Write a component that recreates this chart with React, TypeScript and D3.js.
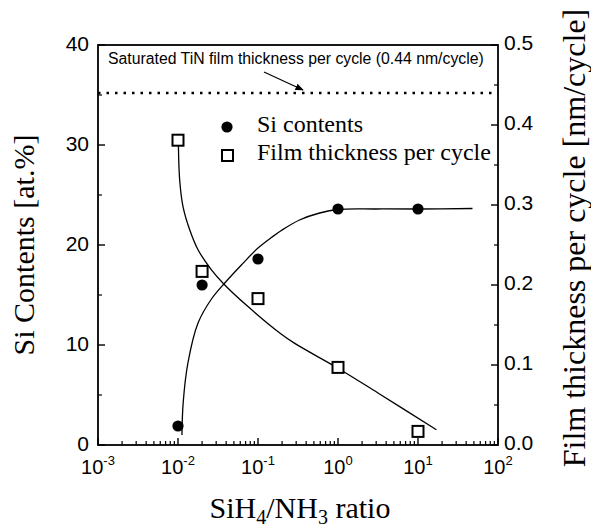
import React from 'react'
import * as d3 from 'd3'

const W = 591
const H = 527

// measured points
const ratios = [0.01, 0.02, 0.1, 1, 10]
const siContents = [1.9, 16.0, 18.6, 23.6, 23.6]
const filmThickness = [0.381, 0.217, 0.183, 0.097, 0.017]

// fitted curves
const siFitRatio = [0.0112, 0.0116, 0.0133, 0.0178, 0.0262, 0.0384, 0.062, 0.1, 0.15, 0.2, 0.33, 0.59, 1.0, 3, 10, 48]
const siFitValue = [1.0, 4.2, 8.2, 12.2, 14.6, 16.2, 18.0, 19.7, 20.8, 21.5, 22.5, 23.2, 23.55, 23.6, 23.6, 23.65]
const thkFitRatio = [0.0101, 0.0105, 0.01155, 0.014, 0.0178, 0.0262, 0.0376, 0.075, 0.187, 0.288, 1.0, 3.16, 17]
const thkFitValue = [0.38, 0.331, 0.298, 0.269, 0.244, 0.219, 0.201, 0.173, 0.14, 0.127, 0.096, 0.065, 0.019]

const saturatedThickness = 0.44

const xTickExp = [-3, -2, -1, 0, 1, 2]
const leftTicks = [0, 10, 20, 30, 40]
const rightTicks = [0, 0.1, 0.2, 0.3, 0.4, 0.5]

const margin = { left: 98, right: 498, top: 45, bottom: 445 }

const sans = 'Arial, "Liberation Sans", sans-serif'
const serif = '"Times New Roman", "Liberation Serif", serif'

export default function App() {
  const x = d3.scaleLog().domain([1e-3, 1e2]).range([margin.left, margin.right])
  const yL = d3.scaleLinear().domain([0, 40]).range([margin.bottom, margin.top])
  const yR = d3.scaleLinear().domain([0, 0.5]).range([margin.bottom, margin.top])

  const siLine = d3.line<number>()
    .x((_, i) => x(siFitRatio[i]))
    .y(d => yL(d))
    .curve(d3.curveCatmullRom.alpha(0.5))
  const thkLine = d3.line<number>()
    .x((_, i) => x(thkFitRatio[i]))
    .y(d => yR(d))
    .curve(d3.curveCatmullRom.alpha(0.5))

  const minorX: number[] = []
  for (let e = -3; e < 2; e++) for (let m = 2; m <= 9; m++) minorX.push(m * Math.pow(10, e))
  const minorL = d3.range(5, 40, 10)
  const minorR = d3.range(0.05, 0.5, 0.1)

  const yDot = yR(saturatedThickness)
  const midY = (margin.top + margin.bottom) / 2

  return (
    <svg width={W} height={H} style={{ position: 'absolute', left: 0, top: 0, background: '#fff' }}>
      <defs>
        <marker id="ah" viewBox="0 0 10 10" refX="9" refY="5" markerWidth="7" markerHeight="7" orient="auto">
          <path d="M0,1 L10,5 L0,9 z" fill="#000" />
        </marker>
      </defs>

      {/* frame */}
      <rect x={margin.left} y={margin.top} width={margin.right - margin.left} height={margin.bottom - margin.top}
        fill="none" stroke="#000" strokeWidth={1.8} />

      {/* bottom ticks */}
      {xTickExp.map(e => (
        <line key={'xm' + e} x1={x(Math.pow(10, e))} x2={x(Math.pow(10, e))} y1={margin.bottom} y2={margin.bottom - 7} stroke="#000" strokeWidth={1.4} />
      ))}
      {minorX.map(v => (
        <line key={'xn' + v} x1={x(v)} x2={x(v)} y1={margin.bottom} y2={margin.bottom - 4} stroke="#000" strokeWidth={1.2} />
      ))}
      {xTickExp.map(e => (
        <text key={'xl' + e} x={x(Math.pow(10, e))} y={474} fontFamily={sans} fontSize={20} textAnchor="middle">
          <tspan>10</tspan>
          <tspan fontSize={13} dy={-9}>{e}</tspan>
        </text>
      ))}

      {/* left ticks */}
      {leftTicks.map(v => (
        <g key={'l' + v}>
          <line x1={margin.left} x2={margin.left + 7} y1={yL(v)} y2={yL(v)} stroke="#000" strokeWidth={1.4} />
          <text x={89} y={yL(v) + 5.5} fontFamily={sans} fontSize={21} textAnchor="end">{v}</text>
        </g>
      ))}
      {minorL.map(v => (
        <line key={'lm' + v} x1={margin.left} x2={margin.left + 4} y1={yL(v)} y2={yL(v)} stroke="#000" strokeWidth={1.2} />
      ))}

      {/* right ticks */}
      {rightTicks.map(v => (
        <g key={'r' + v}>
          <line x1={margin.right} x2={margin.right - 7} y1={yR(v)} y2={yR(v)} stroke="#000" strokeWidth={1.4} />
          <text x={504} y={yR(v) + 4.5} fontFamily={sans} fontSize={21}>{v.toFixed(1)}</text>
        </g>
      ))}
      {minorR.map(v => (
        <line key={'rm' + v} x1={margin.right} x2={margin.right - 4} y1={yR(v)} y2={yR(v)} stroke="#000" strokeWidth={1.2} />
      ))}

      {/* saturated thickness */}
      <line x1={margin.left} x2={margin.right} y1={yDot} y2={yDot} stroke="#000" strokeWidth={2.5} strokeDasharray="2.5 6" />
      <text x={108} y={64} fontFamily={sans} fontSize={15.8}>Saturated TiN film thickness per cycle (0.44 nm/cycle)</text>
      <line x1={264} y1={72} x2={303} y2={yDot - 3} stroke="#000" strokeWidth={1.2} markerEnd="url(#ah)" />

      {/* fits */}
      <path d={siLine(siFitValue) ?? ''} fill="none" stroke="#000" strokeWidth={1.3} />
      <path d={thkLine(thkFitValue) ?? ''} fill="none" stroke="#000" strokeWidth={1.3} />

      {/* points */}
      {ratios.map((r, i) => (
        <circle key={'c' + i} cx={x(r)} cy={yL(siContents[i])} r={5.6} fill="#000" />
      ))}
      {ratios.map((r, i) => (
        <rect key={'s' + i} x={x(r) - 5.5} y={yR(filmThickness[i]) - 5.5} width={11} height={11} fill="#fff" stroke="#000" strokeWidth={2} />
      ))}

      {/* legend */}
      <circle cx={227} cy={127} r={5.6} fill="#000" />
      <text x={257} y={132} fontFamily={serif} fontSize={24}>Si contents</text>
      <rect x={222} y={150} width={11} height={11} fill="#fff" stroke="#000" strokeWidth={2} />
      <text x={257} y={160} fontFamily={serif} fontSize={24}>Film thickness per cycle</text>

      {/* axis titles */}
      <text x={300} y={518} fontFamily={serif} fontSize={30} textAnchor="middle">
        SiH<tspan fontSize={20} dy={6}>4</tspan><tspan dy={-6}>/NH</tspan><tspan fontSize={20} dy={6}>3</tspan><tspan dy={-6}> ratio</tspan>
      </text>
      <text transform={`translate(34,${midY}) rotate(-90)`} fontFamily={serif} fontSize={30} textAnchor="middle">Si Contents [at.%]</text>
      <text transform="translate(585,238) rotate(-90)" fontFamily={serif} fontSize={32} textAnchor="middle">Film thickness per cycle [nm/cycle]</text>
    </svg>
  )
}
